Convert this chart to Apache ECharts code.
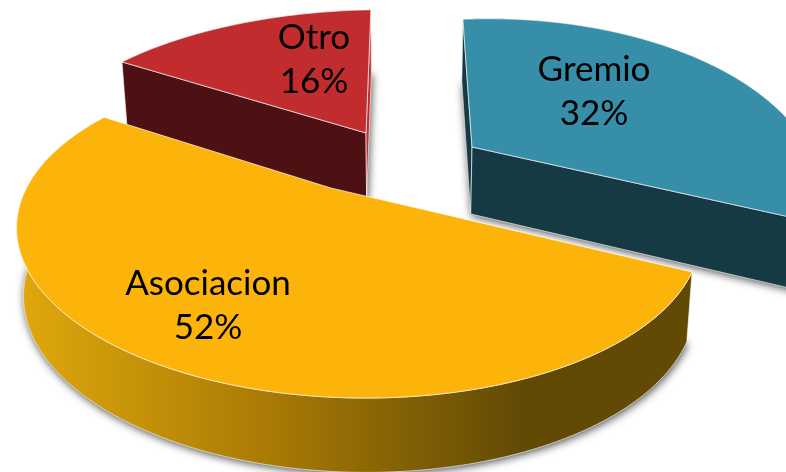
<!DOCTYPE html>
<html>
<head>
<meta charset="utf-8">
<style>html,body{margin:0;padding:0;background:#fff}#c{width:786px;height:472px}</style>
<script src="https://cdn.jsdelivr.net/npm/echarts@6/dist/echarts.min.js"></script>
</head>
<body>
<div id="c"></div>
<script>
var categories = ['Gremio', 'Asociacion', 'Otro'];
var shares = [32, 52, 16];

// Layout and styling of the 3D wedges (not data)
var startAngle = -92;
var view = { rx: 325, ry: 155, p: 0.259, shrink: 0.982, shrinkX: 400, depth: 67, depthSlope: 0.035 };
var looks = [
  { apex: [472, 147], turn: -0.1, q: 0.07, sx: 0.96, sy: 1.04, label: [122, -55], order: 2,
    top: '#378ea8', wall: '#163a44', face0: '#163a44', face1: '#163a44' },
  { apex: [331, 188], turn: 3, q: 0.078, sx: 1.01, sy: 1, label: [-123, 118], order: 3,
    top: '#fdb40a', wall: null, face0: null, face1: null },
  { apex: [366, 133], turn: 3, q: 0.07, sx: 1.08, sy: 1, label: [-52, -73], order: 1,
    top: '#c12d2e', wall: '#4d1113', face0: '#4d1113', face1: '#c12d2e' }
];

function project(look, deg) {
  var t = deg * Math.PI / 180, x = Math.cos(t), y = Math.sin(t);
  var d = 1 - view.p * y - look.q * x;
  return [view.rx * look.sx * x / d, view.ry * look.sy * y / d];
}
function topPoint(look, deg) {
  var v = project(look, deg);
  return [look.apex[0] + v[0], look.apex[1] + v[1]];
}
function lower(point, dyFromApex) {
  return [
    view.shrinkX + (point[0] - view.shrinkX) * view.shrink,
    point[1] + view.depth + view.depthSlope * dyFromApex
  ];
}
function lowPoint(look, deg) {
  var v = project(look, deg);
  return lower(topPoint(look, deg), v[1]);
}
function rim(fn, look, a0, a1) {
  var pts = [], n = Math.ceil(Math.abs(a1 - a0));
  for (var i = 0; i <= n; i++) pts.push(fn(look, a0 + (a1 - a0) * i / n));
  return pts;
}

var total = shares.reduce(function (a, b) { return a + b; }, 0);
var edge = 'rgba(255,255,255,0.65)';

function renderItem(params, api) {
  var idx = params.dataIndex, look = looks[idx], before = 0;
  for (var k = 0; k < idx; k++) before += shares[k];
  var a0 = startAngle + before / total * 360 + look.turn;
  var a1 = a0 + api.value(0) / total * 360;
  var z = look.order * 10;
  var apexTop = look.apex;
  var apexLow = lower(look.apex, 0);
  var topRim = rim(topPoint, look, a0, a1);
  var lowRim = rim(lowPoint, look, a0, a1);

  var wallFill = look.wall || new echarts.graphic.LinearGradient(20, 0, 520, 0, [
    { offset: 0, color: '#dfa80c' },
    { offset: 0.5, color: '#a97a05' },
    { offset: 1, color: '#624a05' }
  ], true);

  var children = [
    { type: 'polygon', z2: z, shape: { points: [apexLow].concat(lowRim) },
      style: { fill: '#555', shadowColor: 'rgba(0,0,0,0.7)', shadowBlur: 9, shadowOffsetX: 1, shadowOffsetY: 2 } },
    { type: 'polygon', z2: z + 1, shape: { points: topRim.concat(lowRim.slice().reverse()) },
      style: { fill: wallFill, stroke: edge, lineWidth: 1 } }
  ];
  if (look.face0) {
    children.push({ type: 'polygon', z2: z + 2, shape: { points: [apexTop, topRim[0], lowRim[0], apexLow] },
      style: { fill: look.face0, stroke: edge, lineWidth: 1 } });
  }
  if (look.face1) {
    children.push({ type: 'polygon', z2: z + 2, shape: { points: [apexTop, topRim[topRim.length - 1], lowRim[lowRim.length - 1], apexLow] },
      style: { fill: look.face1, stroke: edge, lineWidth: 1 } });
  }
  children.push({ type: 'polygon', z2: z + 3, shape: { points: [apexTop].concat(topRim) },
    style: { fill: look.top, stroke: edge, lineWidth: 1 } });
  children.push({ type: 'text', z2: 100, style: {
    x: look.apex[0] + look.label[0], y: look.apex[1] + look.label[1],
    text: categories[idx] + '\n' + api.value(0) + '%',
    fill: '#000', font: '35px Lato', lineHeight: 44, align: 'center', verticalAlign: 'middle' } });
  return { type: 'group', children: children };
}

var chart = echarts.init(document.getElementById('c'), null, { renderer: 'canvas' });
chart.setOption({
  animation: false,
  backgroundColor: '#fff',
  series: [{
    type: 'custom',
    coordinateSystem: 'none',
    silent: true,
    clip: false,
    renderItem: renderItem,
    data: shares.map(function (v, i) { return { name: categories[i], value: [v] }; })
  }]
});
</script>
</body>
</html>
